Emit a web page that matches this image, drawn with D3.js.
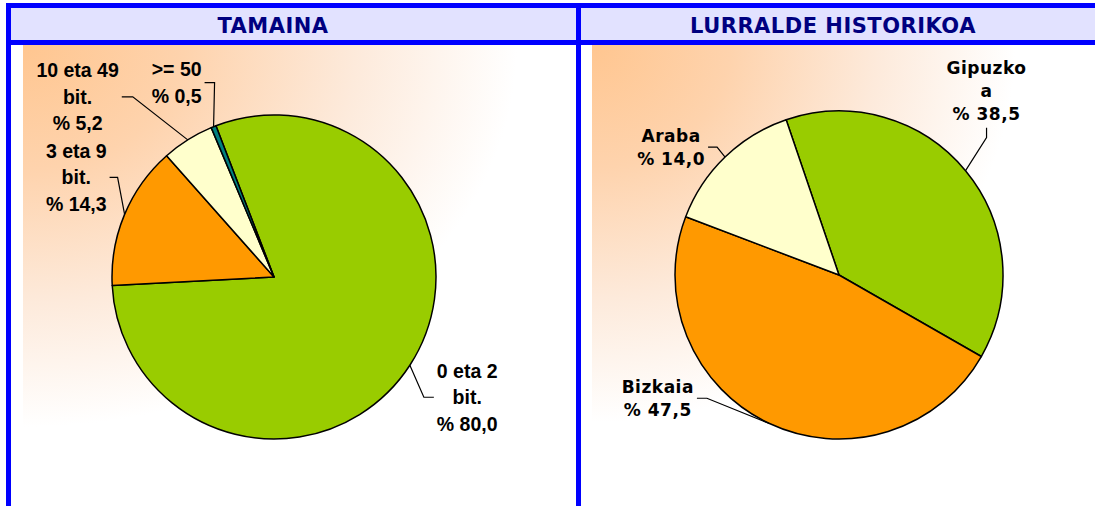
<!DOCTYPE html>
<html>
<head>
  <meta charset="utf-8">
  <title>Tamaina / Lurralde historikoa</title>
  <script src="https://d3js.org/d3.v7.min.js"></script>
  <style>
    body {
      margin: 0;
      overflow: hidden;
      background: #fff;
    }
  </style>
</head>
<body>
  <svg id="container" width="1095" height="506"></svg>
  <script>
    // chart data
    const sizeTitle = 'TAMAINA';
    const sizeCategories = [['0 eta 2', 'bit.'], ['3 eta 9', 'bit.'], ['10 eta 49', 'bit.'], ['>= 50']];
    const sizeValues = [80.0, 14.3, 5.2, 0.5];
    const sizeColors = ['#99cc00', '#ff9900', '#ffffcc', '#008080'];

    const regionTitle = 'LURRALDE HISTORIKOA';
    const regionCategories = [['Gipuzko', 'a'], ['Bizkaia'], ['Araba']];
    const regionValues = [38.5, 47.5, 14.0];
    const regionColors = ['#99cc00', '#ff9900', '#ffffcc'];

    const svg = d3.select('#container');
    const width = +svg.attr('width');
    const height = +svg.attr('height');

    const defs = svg.append('defs');
    const grad = defs.append('radialGradient')
      .attr('id', 'bgGrad')
      .attr('cx', 0).attr('cy', 0).attr('fx', 0).attr('fy', 0).attr('r', 1);
    grad.append('stop').attr('offset', 0).attr('stop-color', '#ffc690');
    grad.append('stop').attr('offset', 0.3).attr('stop-color', '#fed3ad');
    grad.append('stop').attr('offset', 0.62).attr('stop-color', '#fdeadb');
    grad.append('stop').attr('offset', 0.92).attr('stop-color', '#ffffff');

    // header band + plot backgrounds
    svg.append('rect').attr('x', 11).attr('y', 8).attr('width', width - 11).attr('height', 32).attr('fill', '#e2e2ff');
    svg.append('rect').attr('x', 23).attr('y', 45).attr('width', 537).attr('height', 415).attr('fill', 'url(#bgGrad)');
    svg.append('rect').attr('x', 592).attr('y', 45).attr('width', 460).attr('height', 410).attr('fill', 'url(#bgGrad)');

    // blue frame lines
    const blue = '#0000ff';
    svg.append('rect').attr('x', 6).attr('y', 3).attr('width', width - 6).attr('height', 5).attr('fill', blue);
    svg.append('rect').attr('x', 6).attr('y', 40).attr('width', width - 6).attr('height', 5).attr('fill', blue);
    svg.append('rect').attr('x', 6).attr('y', 3).attr('width', 5).attr('height', height).attr('fill', blue);
    svg.append('rect').attr('x', 576).attr('y', 3).attr('width', 5).attr('height', height).attr('fill', blue);

    // titles
    svg.selectAll('text.title')
      .data([[sizeTitle, 273], [regionTitle, 833]])
      .enter()
      .append('text')
      .attr('class', 'title')
      .attr('x', d => d[1])
      .attr('y', 33)
      .attr('text-anchor', 'middle')
      .style('font-family', '"DejaVu Sans", Verdana, sans-serif')
      .style('font-weight', 'bold')
      .style('font-size', '21px')
      .style('letter-spacing', '0.5px')
      .attr('fill', '#000080')
      .text(d => d[0]);

    const fmt = v => '% ' + v.toFixed(1).replace('.', ',');

    function drawPie(opts) {
      const g = svg.append('g').attr('transform', `translate(${opts.cx},${opts.cy})`);
      const pie = d3.pie().sort(null)
        .startAngle(opts.start)
        .endAngle(opts.start + 2 * Math.PI);
      const arcs = pie(opts.values);
      const arc = d3.arc().innerRadius(0).outerRadius(opts.r);

      g.selectAll('path.slice')
        .data(arcs)
        .enter()
        .append('path')
        .attr('class', 'slice')
        .attr('d', arc)
        .attr('fill', (d, i) => opts.colors[i])
        .attr('stroke', '#000')
        .attr('stroke-width', 1.5)
        .attr('stroke-linejoin', 'round');

      arcs.forEach((d, i) => {
        const mid = (d.startAngle + d.endAngle) / 2;
        const ex = opts.r * Math.sin(mid);
        const ey = -opts.r * Math.cos(mid);
        const lay = opts.labels[i];
        const bx = ex + lay.elbow[0], by = ey + lay.elbow[1];
        const tx = bx + lay.tail[0], ty = by + lay.tail[1];

        g.append('path')
          .attr('d', `M${ex},${ey}L${bx},${by}L${tx},${ty}`)
          .attr('fill', 'none')
          .attr('stroke', '#000')
          .attr('stroke-width', 1.2);

        const lines = opts.categories[i].concat([fmt(opts.values[i])]);
        const text = g.append('text')
          .attr('text-anchor', 'middle')
          .style('font-family', opts.font)
          .style('font-weight', 'bold')
          .style('font-size', opts.fs + 'px')
          .style('letter-spacing', opts.ls + 'px')
          .attr('fill', '#000');
        const spans = text.selectAll('tspan')
          .data(lines)
          .enter()
          .append('tspan')
          .text(t => t);

        let maxW = 0;
        spans.each(function () { maxW = Math.max(maxW, this.getComputedTextLength()); });

        let x, y0;
        const n = lines.length;
        if (lay.tail[0] !== 0) {
          x = tx + Math.sign(lay.tail[0]) * (maxW / 2 + 3);
          y0 = ty - (n - 1) * opts.lh / 2 + 0.36 * opts.fs;
        } else {
          x = tx;
          y0 = ty - 8 - (n - 1) * opts.lh;
        }
        spans.attr('x', x).attr('y', (t, j) => y0 + j * opts.lh);
      });
    }

    drawPie({
      cx: 274, cy: 277, r: 162,
      start: -21 * Math.PI / 180,
      values: sizeValues, colors: sizeColors, categories: sizeCategories,
      font: '"Liberation Sans", Arial, sans-serif', fs: 19.5, ls: 0, lh: 26.5,
      labels: [
        { elbow: [14, 32], tail: [10, 0] },
        { elbow: [-7, -37], tail: [-8, 0] },
        { elbow: [-55, -43], tail: [-11, 0] },
        { elbow: [1, -44], tail: [-10, 0] }
      ]
    });

    drawPie({
      cx: 839, cy: 275, r: 164,
      start: -18.8 * Math.PI / 180,
      values: regionValues, colors: regionColors, categories: regionCategories,
      font: '"DejaVu Sans", Verdana, sans-serif', fs: 17, ls: 0.5, lh: 22.7,
      labels: [
        { elbow: [21, -33], tail: [0, -10] },
        { elbow: [-62, -25], tail: [-10, 0] },
        { elbow: [-8, -10], tail: [-9, 0] }
      ]
    });
  </script>
</body>
</html>
